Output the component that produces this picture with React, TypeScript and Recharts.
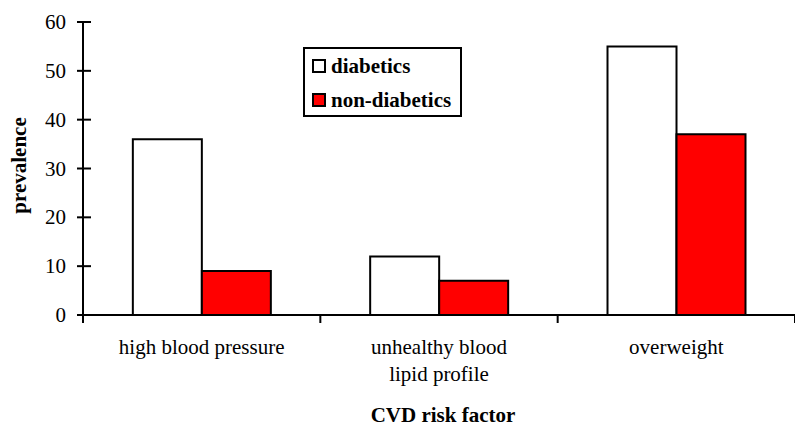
import { BarChart, Bar, XAxis, YAxis, Legend, Label } from 'recharts'

const categories = ['high blood pressure', 'unhealthy blood\nlipid profile', 'overweight']
const diabetics = [36, 12, 55]
const nonDiabetics = [9, 7, 37]
const yTicks = [0, 10, 20, 30, 40, 50, 60]

const data = categories.map((name, i) => ({
  name,
  diabetics: diabetics[i],
  nonDiabetics: nonDiabetics[i],
}))

const WIDTH = 795
const HEIGHT = 426
const Y_AXIS_W = 83
const BAND = (WIDTH - Y_AXIS_W) / categories.length
const FONT = "'Liberation Serif', 'Times New Roman', Times, 'DejaVu Serif', serif"
const FS = 21

function XTick(props: any) {
  const { x, y, payload, index } = props
  const lines = String(payload.value).split('\n')
  const half = BAND / 2
  return (
    <g>
      <line x1={x - half} x2={x - half} y1={y} y2={y + 8} stroke="#000" strokeWidth={2} />
      {index === categories.length - 1 && (
        <line x1={x + half} x2={x + half} y1={y} y2={y + 8} stroke="#000" strokeWidth={2} />
      )}
      <text x={x} y={y + 39} textAnchor="middle" fontSize={FS} style={{ fontFamily: FONT }} fill="#000">
        {lines.map((l, i) => (
          <tspan key={i} x={x} dy={i === 0 ? 0 : 27}>
            {l}
          </tspan>
        ))}
      </text>
    </g>
  )
}

function YTick(props: any) {
  const { x, y, payload } = props
  const ax = x + 17 // axis line position
  return (
    <g>
      <line x1={ax - 6} x2={ax + 8} y1={y} y2={y} stroke="#000" strokeWidth={2} />
      <text x={x} y={y} textAnchor="end" dominantBaseline="central" fontSize={FS} style={{ fontFamily: FONT }} fill="#000">
        {payload.value}
      </text>
    </g>
  )
}

function LegendBox(props: any) {
  const { payload } = props
  return (
    <div
      style={{
        border: '2px solid #000',
        width: 159,
        height: 70,
        boxSizing: 'border-box',
        background: '#fff',
        fontFamily: FONT,
        fontWeight: 'bold',
        fontSize: FS,
        color: '#000',
      }}
    >
      {(payload || []).map((entry: any) => (
        <div key={entry.value} style={{ display: 'flex', alignItems: 'center', height: 34, paddingLeft: 7 }}>
          <span
            style={{
              display: 'inline-block',
              width: 14,
              height: 14,
              boxSizing: 'border-box',
              border: '2px solid #000',
              background: entry.color,
            }}
          />
          <span style={{ marginLeft: 5, lineHeight: 1 }}>{entry.value}</span>
        </div>
      ))}
    </div>
  )
}

export default function App() {
  return (
    <div style={{ position: 'absolute', left: 0, top: 0, width: WIDTH, height: HEIGHT, background: '#fff', fontFamily: FONT }}>
      <BarChart
        width={WIDTH}
        height={HEIGHT}
        data={data}
        margin={{ top: 22, right: 0, left: 0, bottom: 0 }}
        barCategoryGap="21%"
        barGap={0}
      >
        <XAxis
          dataKey="name"
          height={111}
          interval={0}
          tickSize={0}
          tickMargin={0}
          tickLine={false}
          axisLine={{ stroke: '#000', strokeWidth: 2 }}
          tick={<XTick />}
        >
          <Label
            content={({ viewBox }: any) => (
              <text
                x={viewBox.x + viewBox.width / 2 + 4}
                y={viewBox.y + 107}
                textAnchor="middle"
                fontSize={FS}
                fontWeight="bold"
                style={{ fontFamily: FONT }}
                fill="#000"
              >
                CVD risk factor
              </text>
            )}
          />
        </XAxis>
        <YAxis
          width={Y_AXIS_W}
          domain={[0, 60]}
          ticks={yTicks}
          interval={0}
          tickSize={0}
          tickMargin={17}
          tickLine={false}
          axisLine={{ stroke: '#000', strokeWidth: 2 }}
          tick={<YTick />}
        >
          <Label
            content={({ viewBox }: any) => {
              const cx = 19
              const cy = viewBox.y + viewBox.height / 2 - 3
              return (
                <text
                  x={cx}
                  y={cy}
                  transform={`rotate(-90, ${cx}, ${cy})`}
                  textAnchor="middle"
                  dominantBaseline="central"
                  fontSize={FS}
                  fontWeight="bold"
                  style={{ fontFamily: FONT }}
                  fill="#000"
                >
                  prevalence
                </text>
              )
            }}
          />
        </YAxis>
        <Legend
          layout="vertical"
          verticalAlign="middle"
          align="center"
          wrapperStyle={{ top: 47, left: 303, width: 159 }}
          content={<LegendBox />}
        />
        <Bar dataKey="diabetics" name="diabetics" fill="#ffffff" stroke="#000" strokeWidth={2} isAnimationActive={false} />
        <Bar dataKey="nonDiabetics" name="non-diabetics" fill="#ff0000" stroke="#000" strokeWidth={2} isAnimationActive={false} />
      </BarChart>
    </div>
  )
}
